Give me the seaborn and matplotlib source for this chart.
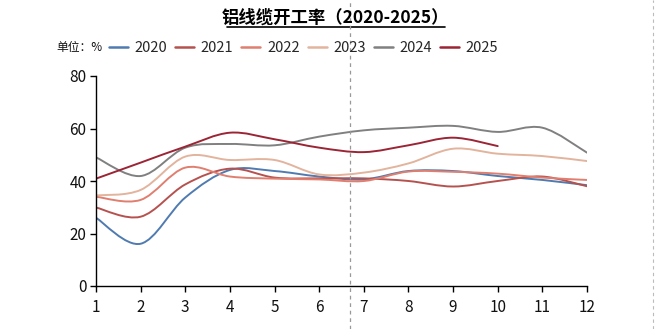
import numpy as np
import pandas as pd
import matplotlib
matplotlib.use("Agg")
import matplotlib.pyplot as plt
import seaborn as sns
from matplotlib.path import Path
from matplotlib.patches import PathPatch
from matplotlib.lines import Line2D

months = [1, 2, 3, 4, 5, 6, 7, 8, 9, 10, 11, 12]
y2020 = [26.0, 16.1, 33.7, 44.2, 43.8, 41.7, 40.6, 43.8, 43.8, 41.9, 40.4, 38.4]
y2021 = [29.9, 26.4, 38.7, 44.7, 41.3, 41.0, 41.0, 40.0, 37.9, 40.0, 41.7, 38.0]
y2022 = [34.0, 32.8, 45.1, 41.7, 40.9, 40.6, 40.0, 43.6, 43.5, 42.8, 41.3, 40.4]
y2023 = [34.5, 36.6, 49.3, 48.0, 48.0, 42.5, 43.2, 46.7, 52.3, 50.4, 49.5, 47.6]
y2024 = [49.0, 41.9, 52.7, 54.1, 53.6, 56.9, 59.3, 60.3, 61.0, 58.7, 60.3, 50.8]
y2025 = [40.9, 47.0, 53.1, 58.4, 55.9, 52.7, 51.0, 53.6, 56.5, 53.3]
years = ["2020", "2021", "2022", "2023", "2024", "2025"]
colors = ["#4f7bb0", "#b5524f", "#e07f6f", "#e2b49d", "#808080", "#9b2535"]
yticks = [0, 20, 40, 60, 80]

series = [y2020, y2021, y2022, y2023, y2024, y2025]
rows = []
for yr, vals in zip(years, series):
    for m, v in zip(months, vals):
        rows.append({"month": m, "value": v, "year": yr})
df = pd.DataFrame(rows)

sns.set_theme(style="white")
plt.rcParams["font.family"] = ["Noto Sans CJK SC", "DejaVu Sans"]

fig = plt.figure(figsize=(6.62, 3.29), dpi=100)
ax = fig.add_axes([96 / 662, 1 - 286 / 329, (587 - 96) / 662, (286 - 76) / 329])

sns.lineplot(data=df, x="month", y="value", hue="year", palette=colors,
             linewidth=1.4, ax=ax, legend=False)

# render each series as a smooth Bezier path through its points (Excel-like smoothing)
for line, col in zip(ax.get_lines(), colors):
    xy = line.get_xydata()
    line.set_visible(False)
    n = len(xy)
    verts = [tuple(xy[0])]
    codes = [Path.MOVETO]
    for i in range(n - 1):
        p0 = xy[i - 1] if i > 0 else xy[i]
        p1 = xy[i]
        p2 = xy[i + 1]
        p3 = xy[i + 2] if i + 2 < n else xy[i + 1]
        c1 = p1 + (p2 - p0) / 6.0
        c2 = p2 - (p3 - p1) / 6.0
        verts += [tuple(c1), tuple(c2), tuple(p2)]
        codes += [Path.CURVE4] * 3
    ax.add_patch(PathPatch(Path(verts, codes), facecolor="none", edgecolor=col,
                           linewidth=1.4, capstyle="round", joinstyle="round"))

ax.set_xlim(1, 12)
ax.set_ylim(0, 80)
ax.set_xticks(months)
ax.set_yticks(yticks)
ax.set_xlabel("")
ax.set_ylabel("")
for s in ["top", "right"]:
    ax.spines[s].set_visible(False)
for s in ["left", "bottom"]:
    ax.spines[s].set_color("black")
    ax.spines[s].set_linewidth(1.0)
ax.tick_params(axis="both", which="major", direction="out", length=4, width=1.0,
               color="black", labelsize=11, labelcolor="#111111", pad=3)
ax.tick_params(axis="x", bottom=True, pad=5)
ax.tick_params(axis="y", left=True)
ax.set_facecolor("white")

handles = [Line2D([0], [0], color=c, linewidth=1.8) for c in colors]
fig.legend(handles, years, loc="center left", bbox_to_anchor=(109 / 662, 1 - 48 / 329),
           ncol=6, frameon=False, fontsize=10.5, handlelength=1.3, handletextpad=0.45,
           columnspacing=0.55, borderaxespad=0, borderpad=0)
fig.text(56 / 662, 1 - 48 / 329, "单位：%", fontsize=8.5, va="center", ha="left", color="#111111")

fig.text(335 / 662, 1 - 18 / 329, "铝线缆开工率（2020-2025）", fontsize=12.5, fontweight="bold",
         fontstyle="italic", ha="center", va="center", color="black")
fig.add_artist(Line2D([227 / 662, 445 / 662], [1 - 27 / 329, 1 - 27 / 329],
                      color="black", linewidth=1.2, transform=fig.transFigure))

fig.add_artist(Line2D([350 / 662, 350 / 662], [0, 1], color="#999999", linewidth=0.9,
                      linestyle=(0, (3, 3)), transform=fig.transFigure))
fig.add_artist(Line2D([653 / 662, 653 / 662], [0, 1], color="#bbbbbb", linewidth=0.8,
                      linestyle=(0, (3, 3)), transform=fig.transFigure))

fig.savefig("out.png", dpi=100, facecolor="white")
